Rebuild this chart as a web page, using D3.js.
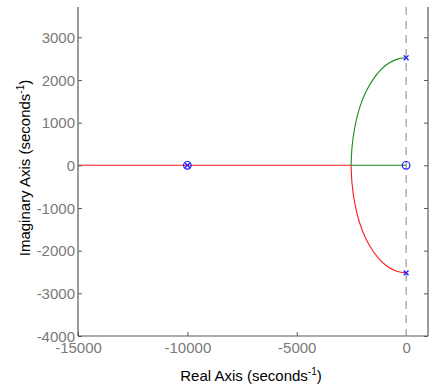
<!DOCTYPE html>
<html>
<head>
<meta charset="utf-8">
<script src="https://cdn.jsdelivr.net/npm/d3@7"></script>
<style>
  html, body { margin: 0; padding: 0; background: #fff; }
  svg { display: block; }
  text { font-family: "Liberation Sans", Arial, Helvetica, sans-serif; }
</style>
</head>
<body>
<div id="chart"></div>
<script>
// Root locus: axis limits and ticks
const xDomain = [-15000, 1000];
const yDomain = [-4000, 3710];
const xTicks = [-15000, -10000, -5000, 0];
const yTicks = [-4000, -3000, -2000, -1000, 0, 1000, 2000, 3000];

// Open-loop poles and zeros (real, imaginary)
const poles = [[0, 2520], [0, -2520], [-10000, 0]];
const zeros = [[0, 0], [-10000, 0]];

// Branch 1 (green): upper pole -> break-in on the real axis -> zero at origin
const branchUpperRe = [0, -400, -800, -1150, -1500, -1850, -2150, -2350, -2470, -2516, -2000, -1000, 0];
const branchUpperIm = [2520, 2488, 2390, 2240, 2020, 1710, 1310, 880, 440, 0, 0, 0, 0];

// Branch 2 (red): lower pole -> break-in -> along the negative real axis
const branchLowerRe = [0, -400, -800, -1150, -1500, -1850, -2150, -2350, -2470, -2516, -10000, -15000];
const branchLowerIm = [-2520, -2488, -2390, -2240, -2020, -1710, -1310, -880, -440, 0, 0, 0];

const W = 430, H = 386;
const plot = { left: 78, right: 428, top: 7, bottom: 336 };

const svg = d3.select("#chart").append("svg").attr("width", W).attr("height", H);

const x = d3.scaleLinear().domain(xDomain).range([plot.left, plot.right]);
const y = d3.scaleLinear().domain(yDomain).range([plot.bottom, plot.top]);

svg.append("defs").append("clipPath").attr("id", "clip")
  .append("rect").attr("x", plot.left).attr("y", plot.top)
  .attr("width", plot.right - plot.left).attr("height", plot.bottom - plot.top);

const axisColor = "#5a5a5a";
const tickTextColor = "#7a7a7a";
const fmt = d => String(d);  // plain hyphen-minus labels

// Dashed vertical line at Re = 0
svg.append("line")
  .attr("x1", x(0)).attr("x2", x(0))
  .attr("y1", plot.top).attr("y2", plot.bottom)
  .attr("stroke", "#8a8a8a").attr("stroke-width", 1)
  .attr("stroke-dasharray", "8,6");

// Locus branches: curved part (complex roots) then the real-axis segment
const g = svg.append("g").attr("clip-path", "url(#clip)");
const arcLine = d3.line().x(d => x(d[0])).y(d => y(d[1])).curve(d3.curveCatmullRom.alpha(0.5));
const straight = d3.line().x(d => x(d[0])).y(d => y(d[1]));

function drawBranch(re, im, color) {
  const pts = re.map((v, i) => [v, im[i]]);
  const k = im.findIndex(v => v === 0);        // break-in point
  g.append("path").datum(pts.slice(0, k + 1)).attr("d", arcLine)
    .attr("fill", "none").attr("stroke", color).attr("stroke-width", 1.1);
  g.append("path").datum(pts.slice(k)).attr("d", straight)
    .attr("fill", "none").attr("stroke", color).attr("stroke-width", 1.1);
}
drawBranch(branchLowerRe, branchLowerIm, "#ff1a1a");
drawBranch(branchUpperRe, branchUpperIm, "#1a8a1a");

// Zeros (circles) and poles (crosses)
g.selectAll("circle.zero").data(zeros).join("circle")
  .attr("class", "zero")
  .attr("cx", d => x(d[0])).attr("cy", d => y(d[1])).attr("r", 3.8)
  .attr("fill", "none").attr("stroke", "#1a1aff").attr("stroke-width", 1.2);

const cs = 2.4;
g.selectAll("path.pole").data(poles).join("path")
  .attr("class", "pole")
  .attr("d", d => {
    const px = x(d[0]), py = y(d[1]);
    return `M${px - cs},${py - cs}L${px + cs},${py + cs}M${px - cs},${py + cs}L${px + cs},${py - cs}`;
  })
  .attr("fill", "none").attr("stroke", "#1a1aff").attr("stroke-width", 1.3);

// Axes
const xAxis = d3.axisBottom(x).tickValues(xTicks).tickSize(-4).tickFormat(fmt);
const yAxis = d3.axisLeft(y).tickValues(yTicks).tickSize(-4).tickFormat(fmt);
const yAxisR = d3.axisRight(y).tickValues(yTicks).tickSize(-4).tickFormat("");

const gx = svg.append("g").attr("transform", `translate(0,${plot.bottom})`).call(xAxis);
const gy = svg.append("g").attr("transform", `translate(${plot.left},0)`).call(yAxis);
const gr = svg.append("g").attr("transform", `translate(${plot.right},0)`).call(yAxisR);

[gx, gy, gr].forEach(a => {
  a.select(".domain").attr("stroke", axisColor).attr("stroke-width", 1.2);
  a.selectAll(".tick line").attr("stroke", axisColor).attr("stroke-width", 1);
  a.selectAll(".tick text").attr("fill", tickTextColor).style("font-size", "15px");
});
gx.select(".domain").attr("d", `M${plot.left},0H${plot.right}`);
gy.select(".domain").attr("d", `M0,${plot.top}V${plot.bottom}`);
gr.select(".domain").attr("d", `M0,${plot.top}V${plot.bottom}`);

gx.selectAll(".tick text").attr("y", 6).attr("dy", "0.71em");
gy.selectAll(".tick text").attr("x", -3).attr("dy", "0.35em");
gx.selectAll(".tick line").filter(d => d === 0).remove();

// Axis titles
const xl = svg.append("text")
  .attr("x", (plot.left + plot.right) / 2 - 2).attr("y", 381)
  .attr("text-anchor", "middle").attr("fill", "#000").style("font-size", "15px");
xl.append("tspan").text("Real Axis (seconds");
xl.append("tspan").text("-1").style("font-size", "10px").attr("dy", "-6");
xl.append("tspan").text(")").attr("dy", "6");

const yl = svg.append("text")
  .attr("transform", `translate(30,168) rotate(-90)`)
  .attr("text-anchor", "middle").attr("fill", "#000").style("font-size", "15px");
yl.append("tspan").text("Imaginary Axis (seconds");
yl.append("tspan").text("-1").style("font-size", "10px").attr("dy", "-6");
yl.append("tspan").text(")").attr("dy", "6");
</script>
</body>
</html>
